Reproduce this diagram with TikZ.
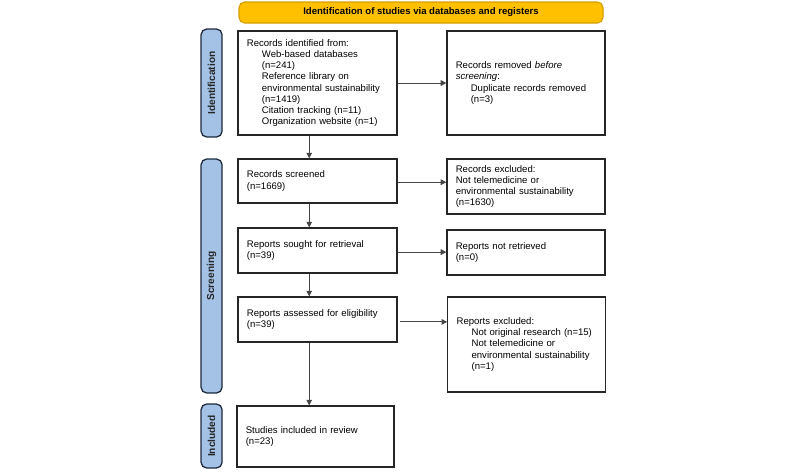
\documentclass[tikz,border=0pt]{standalone}
\usepackage{fontspec}
\setmainfont{Liberation Sans}
\usepackage{tikz}
\usetikzlibrary{arrows.meta}
\definecolor{prismaorange}{RGB}{255,192,0}
\definecolor{prismaorangedark}{RGB}{214,158,0}
\definecolor{prismablue}{RGB}{163,194,230}
\definecolor{prismanavy}{RGB}{30,40,58}
\definecolor{arrowgrey}{RGB}{70,70,70}
\newcommand{\ind}{\hspace*{0.375cm}}

\begin{document}
\begin{tikzpicture}[font=\fontsize{6.8}{7.9}\selectfont,
    box/.style={rectangle, draw=black!85, line width=0.9pt, fill=white,
                align=left, inner xsep=0.22cm, inner ysep=0pt},
    lbox/.style={box, text width=3.535cm, minimum width=3.975cm},
    rbox/.style={box, text width=3.51cm, minimum width=3.95cm},
    phase/.style={rectangle, draw=prismanavy, line width=0.9pt, rounded corners=4pt,
                  fill=prismablue, minimum width=0.525cm, inner sep=0pt},
    phaselabel/.style={font=\fontsize{7.2}{8}\selectfont\bfseries, rotate=90, text=black!85},
    flow/.style={-{Triangle[length=4pt,width=4pt]}, line width=0.7pt, arrowgrey}]
\useasboundingbox (0,0) rectangle (20,-11.85);
% banner on top
\node[rectangle, draw=prismaorangedark, line width=0.8pt, rounded corners=4pt, fill=prismaorange,
      minimum width=9.1cm, minimum height=0.525cm, font=\fontsize{6.8}{8}\selectfont\bfseries]
      (banner) at (10.525,-0.3125) {Identification of studies via databases and registers};
% phase bars on the left
\node[phase, minimum height=2.7cm] (idbar) at (5.29,-2.075) {};
\node[phase, minimum height=5.85cm] (scbar) at (5.29,-6.9) {};
\node[phase, minimum height=1.6cm] (inbar) at (5.29,-10.9) {};
\node[phaselabel] at (idbar.center) {Identification};
\node[phaselabel] at (scbar.center) {Screening};
\node[phaselabel] at (inbar.center) {Included};
% left column
\node[lbox, minimum height=2.6cm] (ident) at (7.94,-2.075) {Records identified from:\\
  \ind Web-based databases\\
  \ind (n=241)\\
  \ind Reference library on\\
  \ind environmental sustainability\\
  \ind (n=1419)\\
  \ind Citation tracking (n=11)\\
  \ind Organization website (n=1)};
\node[lbox, minimum height=1.1cm] (screened) at (7.94,-4.525) {Records screened\\(n=1669)};
\node[lbox, minimum height=1.125cm] (sought) at (7.94,-6.2625) {Reports sought for retrieval\\(n=39)};
\node[lbox, minimum height=1.125cm] (assessed) at (7.94,-7.9875) {Reports assessed for eligibility\\(n=39)};
\node[box, text width=3.485cm, minimum width=3.925cm, minimum height=1.525cm]
      (included) at (7.8875,-10.9125) {Studies included in review\\(n=23)};
% right column
\node[rbox, minimum height=2.6cm] (removed) at (13.15,-2.075) {Records removed \textit{before}\\
  \textit{screening}:\\
  \ind Duplicate records removed\\
  \ind (n=3)};
\node[rbox, minimum height=1.375cm] (excl1) at (13.15,-4.6625) {Records excluded:\\
  Not telemedicine or\\
  environmental sustainability\\
  (n=1630)};
\node[rbox, minimum height=1.125cm] (notretr) at (13.15,-6.3125) {Reports not retrieved\\(n=0)};
\node[rbox, minimum height=2.375cm] (excl2) at (13.17,-8.6125) {Reports excluded:\\
  \ind Not original research (n=15)\\
  \ind Not telemedicine or\\
  \ind environmental sustainability\\
  \ind (n=1)};
% arrows down the main column
\coordinate (spine) at (7.73,0);
\draw[flow] (ident.south -| spine) -- (screened.north -| spine);
\draw[flow] (screened.south -| spine) -- (sought.north -| spine);
\draw[flow] (sought.south -| spine) -- (assessed.north -| spine);
\draw[flow] (assessed.south -| spine) -- (included.north -| spine);
% arrows to the side boxes
\draw[flow] (ident.east) -- (ident.east -| removed.west);
\draw[flow] ([yshift=-0.03cm]screened.east) -- ([yshift=-0.03cm]screened.east -| excl1.west);
\draw[flow] ([yshift=-0.04cm]sought.east) -- ([yshift=-0.04cm]sought.east -| notretr.west);
\draw[flow] ([xshift=0.05cm,yshift=-0.06cm]assessed.east) -- ([yshift=-0.06cm]assessed.east -| excl2.west);
\end{tikzpicture}
\end{document}
